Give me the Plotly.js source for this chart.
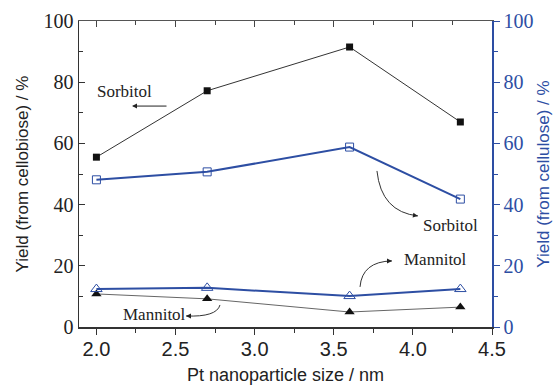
<!DOCTYPE html>
<html>
<head>
<meta charset="utf-8">
<script src="https://cdn.plot.ly/plotly-3.0.1.min.js"></script>
<style>html,body{margin:0;padding:0;background:#fff;}#chart{width:553px;height:385px;}</style>
</head>
<body>
<div id="chart"></div>
<script>
var sizes = [2.0, 2.7, 3.6, 4.3];
var sorbitolCellobiose = [55.5, 77.2, 91.5, 67.0];
var mannitolCellobiose = [10.8, 9.2, 4.9, 6.5];
var sorbitolCellulose = [48.1, 50.7, 58.8, 41.8];
var mannitolCellulose = [12.4, 12.8, 10.1, 12.4];
var xTicks = [2.0, 2.5, 3.0, 3.5, 4.0, 4.5];
var xTickLabels = ['2.0', '2.5', '3.0', '3.5', '4.0', '4.5'];
var yTicks = [0, 20, 40, 60, 80, 100];

var BLUE = '#2d4ea3';
var serif = '"Liberation Serif", "Times New Roman", serif';
var sans = '"Liberation Sans", Arial, sans-serif';

var traces = [
  {x: sizes, y: sorbitolCellobiose, mode: 'lines+markers', xaxis: 'x', yaxis: 'y',
   line: {color: '#333', width: 1}, marker: {symbol: 'square', size: 7, color: '#111'}},
  {x: sizes, y: mannitolCellobiose, mode: 'lines+markers', xaxis: 'x', yaxis: 'y',
   line: {color: '#666', width: 1}, marker: {symbol: 'triangle-up', size: 9, color: '#111'}},
  {x: sizes, y: sorbitolCellulose, mode: 'lines+markers', xaxis: 'x', yaxis: 'y2',
   line: {color: BLUE, width: 2}, marker: {symbol: 'square-open', size: 8, color: BLUE, line: {width: 1}}},
  {x: sizes, y: mannitolCellulose, mode: 'lines+markers', xaxis: 'x', yaxis: 'y2',
   line: {color: BLUE, width: 2}, marker: {symbol: 'triangle-up-open', size: 10, color: BLUE, line: {width: 1}}},
  {x: [], y: [], xaxis: 'x2', yaxis: 'y', showlegend: false}
];

var xr = [1.89, 4.5];
var layout = {
  width: 553, height: 385,
  margin: {l: 79, r: 61, t: 21, b: 58},
  paper_bgcolor: '#fff', plot_bgcolor: '#fff',
  showlegend: false,
  xaxis: {
    range: xr, tickvals: xTicks, ticktext: xTickLabels,
    ticks: 'outside', ticklen: 6, tickcolor: '#333', tickwidth: 1,
    ticklabelstandoff: -3,
    minor: {dtick: 0.25, ticks: 'outside', ticklen: 4, tickcolor: '#333'},
    showline: true, linecolor: '#333', linewidth: 1.5,
    showgrid: false, zeroline: false,
    tickfont: {family: sans, size: 20, color: '#222'},
    title: {text: 'Pt nanoparticle size / nm', font: {family: sans, size: 18, color: '#222'}, standoff: 12}
  },
  xaxis2: {
    overlaying: 'x', side: 'top', range: xr, tickvals: xTicks, showticklabels: false,
    ticks: 'inside', ticklen: 6, tickcolor: '#444',
    minor: {dtick: 0.25, ticks: 'inside', ticklen: 4, tickcolor: '#444'},
    showline: true, linecolor: '#555', linewidth: 1, showgrid: false, zeroline: false
  },
  yaxis: {
    range: [0, 100], tickvals: yTicks,
    ticks: 'inside', ticklen: 6, tickcolor: '#333',
    minor: {dtick: 10, ticks: 'inside', ticklen: 4, tickcolor: '#333'},
    showline: true, linecolor: '#333', linewidth: 1.5,
    showgrid: false, zeroline: false,
    tickfont: {family: serif, size: 20, color: '#222'},
    title: {text: 'Yield (from cellobiose) / %', font: {family: sans, size: 17, color: '#222'}, standoff: 10}
  },
  yaxis2: {
    overlaying: 'y', side: 'right', anchor: 'x', range: [0, 100], tickvals: yTicks,
    ticks: 'outside', ticklen: 6, tickcolor: BLUE,
    minor: {dtick: 10, ticks: 'outside', ticklen: 4, tickcolor: BLUE},
    showline: true, linecolor: BLUE, linewidth: 1.5,
    showgrid: false, zeroline: false,
    tickfont: {family: serif, size: 20, color: BLUE},
    title: {text: 'Yield (from cellulose) / %', font: {family: sans, size: 17, color: BLUE}, standoff: 8}
  },
  shapes: [
    {type: 'path', xref: 'x', yref: 'y', path: 'M 3.773 51 Q 3.80 37.6 4.032 36.3', line: {color: '#333', width: 1}},
    {type: 'path', xref: 'x', yref: 'y', path: 'M 3.666 13.1 Q 3.679 21.4 3.868 21.6', line: {color: '#333', width: 1}},
    {type: 'path', xref: 'x', yref: 'y', path: 'M 2.781 7.2 Q 2.76 3.2 2.566 3.6', line: {color: '#333', width: 1}}
  ],
  annotations: [
    {x: 2.18, y: 76.8, xref: 'x', yref: 'y', text: 'Sorbitol', showarrow: false, font: {family: serif, size: 17, color: '#222'}},
    {x: 2.225, y: 72.2, xref: 'x', yref: 'y', text: '', showarrow: true, ax: 36, ay: 0, arrowhead: 2, arrowsize: 1, arrowwidth: 1, arrowcolor: '#222'},
    {x: 4.235, y: 33.3, xref: 'x', yref: 'y', text: 'Sorbitol', showarrow: false, font: {family: serif, size: 17, color: '#222'}},
    {x: 4.032, y: 36.3, xref: 'x', yref: 'y', text: '', showarrow: true, ax: -6, ay: -1, arrowhead: 2, arrowsize: 1, arrowwidth: 1, arrowcolor: '#222'},
    {x: 4.146, y: 22.2, xref: 'x', yref: 'y', text: 'Mannitol', showarrow: false, font: {family: serif, size: 17, color: '#222'}},
    {x: 3.868, y: 21.6, xref: 'x', yref: 'y', text: '', showarrow: true, ax: -6, ay: 0, arrowhead: 2, arrowsize: 1, arrowwidth: 1, arrowcolor: '#222'},
    {x: 2.37, y: 4.25, xref: 'x', yref: 'y', text: 'Mannitol', showarrow: false, font: {family: serif, size: 17, color: '#222'}},
    {x: 2.566, y: 3.6, xref: 'x', yref: 'y', text: '', showarrow: true, ax: 6, ay: 0, arrowhead: 2, arrowsize: 1, arrowwidth: 1, arrowcolor: '#222'}
  ]
};

Plotly.newPlot('chart', traces, layout, {displayModeBar: false, staticPlot: true});
</script>
</body>
</html>
